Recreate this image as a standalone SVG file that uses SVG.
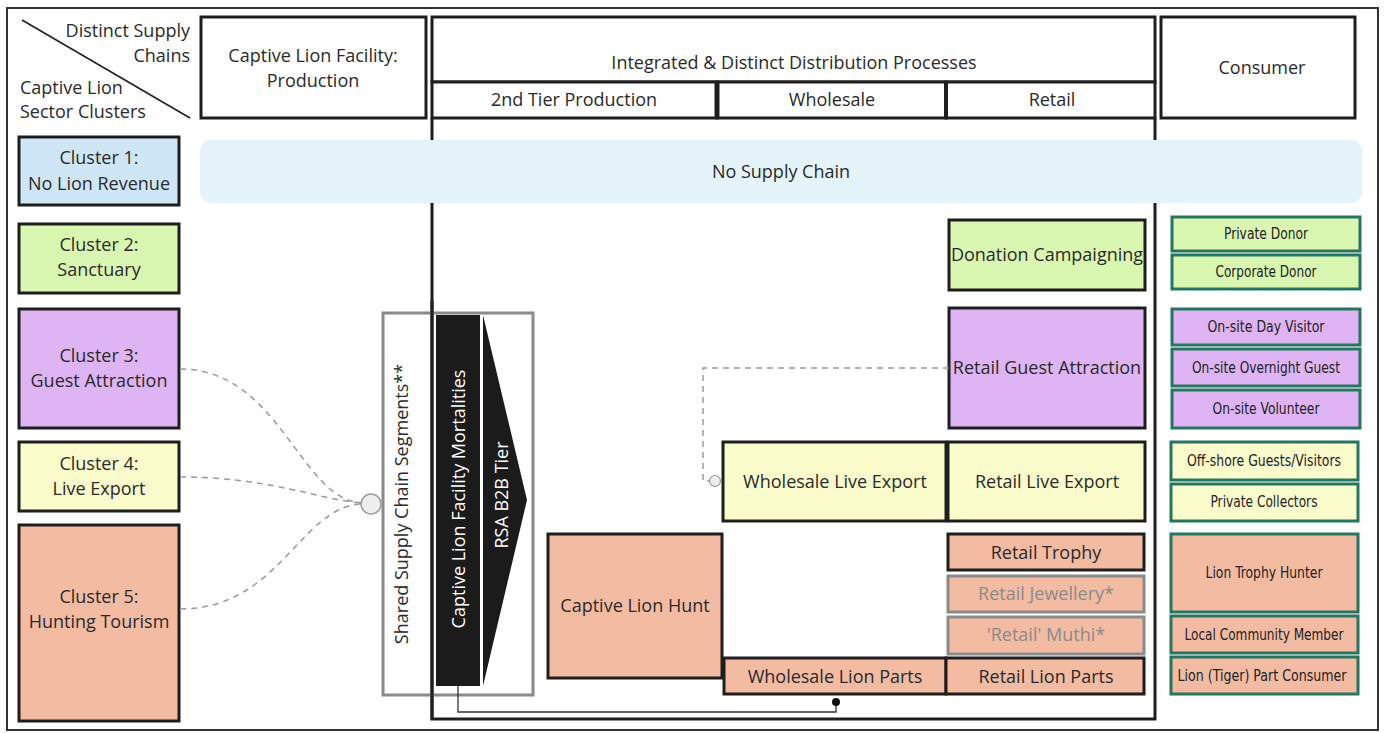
<svg xmlns="http://www.w3.org/2000/svg" width="1384" height="733" viewBox="0 0 1384 733">
  <style>
    .t { font-family: "Open Sans", "Liberation Sans", sans-serif; font-size: 18px; fill: #2a2a2a; text-anchor: middle; dominant-baseline: central; }
    .tw { font-family: "Open Sans", "Liberation Sans", sans-serif; font-size: 18px; fill: #fff; text-anchor: middle; dominant-baseline: central; }
    .tg { font-family: "Open Sans", "Liberation Sans", sans-serif; font-size: 18px; fill: #8a8a8a; text-anchor: middle; dominant-baseline: central; }
    .tc { font-family: "Liberation Sans Narrow", "DejaVu Sans Condensed", "Liberation Sans", sans-serif; font-size: 15.5px; fill: #222; text-anchor: middle; dominant-baseline: central; }
    .hdr { fill: #fff; stroke: #1e1e1e; stroke-width: 3; }
    .box { stroke: #1e1e1e; stroke-width: 3; }
    .boxg { stroke: #8a8a8a; stroke-width: 3; }
    .cons { stroke: #267560; stroke-width: 3; }
    .blue { fill: #cfe6f7; }
    .green { fill: #d9f7b0; }
    .purple { fill: #dfb4f4; }
    .yellow { fill: #fafccb; }
    .salmon { fill: #f4bba3; }
    .dash { fill: none; stroke: #9a9a9a; stroke-width: 1.5; stroke-dasharray: 6 5; }
  </style>

  <!-- outer frame -->
  <rect x="7" y="8" width="1371" height="722" fill="#fff" stroke="#333" stroke-width="2"/>

  <!-- header -->
  <g id="corner-header">
    <line x1="22" y1="20" x2="190" y2="118" stroke="#1e1e1e" stroke-width="1.5"/>
    <text class="t" x="190" y="30" style="text-anchor:end">Distinct Supply</text>
    <text class="t" x="190" y="55" style="text-anchor:end">Chains</text>
    <text class="t" x="20" y="87" style="text-anchor:start">Captive Lion</text>
    <text class="t" x="20" y="111" style="text-anchor:start">Sector Clusters</text>
  </g>
  <g id="production-header">
    <rect class="hdr" x="201" y="17" width="225" height="101"/>
    <text class="t" x="313" y="55">Captive Lion Facility:</text>
    <text class="t" x="313" y="80">Production</text>
  </g>
  <g id="distribution-header">
    <rect class="hdr" x="432" y="17" width="723" height="65"/>
    <text class="t" x="794" y="62">Integrated &amp; Distinct Distribution Processes</text>
    <rect class="hdr" x="432" y="82" width="285" height="36"/>
    <rect class="hdr" x="717" y="82" width="229" height="36"/>
    <rect class="hdr" x="946" y="82" width="209" height="36"/>
    <line x1="717" y1="82" x2="717" y2="118" stroke="#1e1e1e" stroke-width="5"/>
    <line x1="946" y1="82" x2="946" y2="118" stroke="#1e1e1e" stroke-width="4"/>
    <text class="t" x="574" y="99">2nd Tier Production</text>
    <text class="t" x="832" y="99">Wholesale</text>
    <text class="t" x="1052" y="99">Retail</text>
  </g>
  <g id="consumer-header">
    <rect class="hdr" x="1161" y="17" width="194" height="101"/>
    <text class="t" x="1262" y="67">Consumer</text>
  </g>

  <!-- distribution body frame -->
  <path d="M432,118 V719 H1155 V118" fill="none" stroke="#1e1e1e" stroke-width="3"/>

  <!-- no supply chain band -->
  <g id="no-supply-chain">
    <rect x="200" y="140" width="1162" height="63" rx="11" fill="#e5f3fb"/>
    <text class="t" x="781" y="171">No Supply Chain</text>
  </g>

  <!-- sector clusters -->
  <g id="cluster1">
    <rect class="box blue" x="19" y="137" width="160" height="68"/>
    <text class="t" x="99" y="157">Cluster 1:</text>
    <text class="t" x="99" y="183">No Lion Revenue</text>
  </g>
  <g id="cluster2">
    <rect class="box green" x="19" y="224" width="160" height="69"/>
    <text class="t" x="99" y="244">Cluster 2:</text>
    <text class="t" x="99" y="269">Sanctuary</text>
  </g>
  <g id="cluster3">
    <rect class="box purple" x="19" y="309" width="160" height="119"/>
    <text class="t" x="99" y="355">Cluster 3:</text>
    <text class="t" x="99" y="380">Guest Attraction</text>
  </g>
  <g id="cluster4">
    <rect class="box yellow" x="19" y="442" width="160" height="69"/>
    <text class="t" x="99" y="463">Cluster 4:</text>
    <text class="t" x="99" y="488">Live Export</text>
  </g>
  <g id="cluster5">
    <rect class="box salmon" x="19" y="525" width="160" height="196"/>
    <text class="t" x="99" y="596">Cluster 5:</text>
    <text class="t" x="99" y="621">Hunting Tourism</text>
  </g>

  <!-- shared segments -->
  <g id="shared-segments">
    <rect x="383" y="313" width="150" height="382" fill="none" stroke="#8a8a8a" stroke-width="3"/>
    <line x1="432" y1="300" x2="432" y2="719" stroke="#1e1e1e" stroke-width="3"/>
    <text class="t" transform="translate(401,504) rotate(-90)">Shared Supply Chain Segments**</text>
  </g>
  <g id="mortalities">
    <rect x="436" y="315" width="44" height="371" fill="#1b1b1b"/>
    <text class="tw" transform="translate(458,499) rotate(-90)">Captive Lion Facility Mortalities</text>
  </g>
  <g id="b2b-tier">
    <polygon points="483,315 527,500 483,686" fill="#1b1b1b"/>
    <text class="tw" transform="translate(501,495) rotate(-90)">RSA B2B Tier</text>
  </g>

  <!-- distribution nodes -->
  <g id="donation-campaigning">
    <rect class="box green" x="949" y="220" width="196" height="70"/>
    <text class="t" x="1047" y="254">Donation Campaigning</text>
  </g>
  <g id="retail-guest-attraction">
    <rect class="box purple" x="949" y="308" width="196" height="120"/>
    <text class="t" x="1047" y="367">Retail Guest Attraction</text>
  </g>
  <g id="wholesale-live-export">
    <rect class="box yellow" x="723" y="442" width="223" height="79"/>
    <text class="t" x="835" y="481">Wholesale Live Export</text>
  </g>
  <g id="retail-live-export">
    <rect class="box yellow" x="948" y="442" width="197" height="79"/>
    <text class="t" x="1047" y="481">Retail Live Export</text>
  </g>
  <g id="captive-lion-hunt">
    <rect class="box salmon" x="548" y="534" width="174" height="144"/>
    <text class="t" x="635" y="605">Captive Lion Hunt</text>
  </g>
  <g id="retail-trophy">
    <rect class="box salmon" x="948" y="534" width="196" height="36"/>
    <text class="t" x="1046" y="552">Retail Trophy</text>
  </g>
  <g id="retail-jewellery">
    <rect class="boxg salmon" x="948" y="576" width="196" height="36"/>
    <text class="tg" x="1046" y="593">Retail Jewellery*</text>
  </g>
  <g id="retail-muthi">
    <rect class="boxg salmon" x="948" y="617" width="196" height="37"/>
    <text class="tg" x="1046" y="634">'Retail' Muthi*</text>
  </g>
  <g id="wholesale-lion-parts">
    <rect class="box salmon" x="724" y="658" width="222" height="36"/>
    <text class="t" x="835" y="676">Wholesale Lion Parts</text>
  </g>
  <g id="retail-lion-parts">
    <rect class="box salmon" x="946" y="658" width="198" height="36"/>
    <text class="t" x="1046" y="676">Retail Lion Parts</text>
  </g>

  <!-- consumers -->
  <g id="private-donor">
    <rect class="cons green" x="1172" y="217" width="188" height="34"/>
    <text class="tc" x="1266" y="234" textLength="84" lengthAdjust="spacingAndGlyphs">Private Donor</text>
  </g>
  <g id="corporate-donor">
    <rect class="cons green" x="1172" y="255" width="188" height="34"/>
    <text class="tc" x="1266" y="272" textLength="101" lengthAdjust="spacingAndGlyphs">Corporate Donor</text>
  </g>
  <g id="day-visitor">
    <rect class="cons purple" x="1172" y="309" width="188" height="36"/>
    <text class="tc" x="1266" y="327" textLength="117" lengthAdjust="spacingAndGlyphs">On-site Day Visitor</text>
  </g>
  <g id="overnight-guest">
    <rect class="cons purple" x="1172" y="349" width="188" height="37"/>
    <text class="tc" x="1266" y="368" textLength="148" lengthAdjust="spacingAndGlyphs">On-site Overnight Guest</text>
  </g>
  <g id="volunteer">
    <rect class="cons purple" x="1172" y="390" width="188" height="38"/>
    <text class="tc" x="1266" y="409" textLength="107" lengthAdjust="spacingAndGlyphs">On-site Volunteer</text>
  </g>
  <g id="offshore-guests">
    <rect class="cons yellow" x="1171" y="442" width="187" height="38"/>
    <text class="tc" x="1264" y="461" textLength="154" lengthAdjust="spacingAndGlyphs">Off-shore Guests/Visitors</text>
  </g>
  <g id="private-collectors">
    <rect class="cons yellow" x="1171" y="484" width="187" height="37"/>
    <text class="tc" x="1264" y="502" textLength="107" lengthAdjust="spacingAndGlyphs">Private Collectors</text>
  </g>
  <g id="trophy-hunter">
    <rect class="cons salmon" x="1171" y="534" width="187" height="78"/>
    <text class="tc" x="1264" y="573" textLength="117" lengthAdjust="spacingAndGlyphs">Lion Trophy Hunter</text>
  </g>
  <g id="community-member">
    <rect class="cons salmon" x="1171" y="616" width="187" height="37"/>
    <text class="tc" x="1264" y="635" textLength="159" lengthAdjust="spacingAndGlyphs">Local Community Member</text>
  </g>
  <g id="part-consumer">
    <rect class="cons salmon" x="1171" y="657" width="187" height="37"/>
    <text class="tc" x="1262" y="676" textLength="169" lengthAdjust="spacingAndGlyphs">Lion (Tiger) Part Consumer</text>
  </g>

  <!-- connectors -->
  <g id="connectors">
    <path class="dash" d="M180,369 C280,369 300,500 362,503"/>
    <path class="dash" d="M180,477 C270,477 320,500 362,503"/>
    <path class="dash" d="M180,609 C280,609 300,506 362,504"/>
    <circle cx="371" cy="504" r="10" fill="#eeeeee" stroke="#9a9a9a" stroke-width="1.5"/>
    <path class="dash" d="M949,368 H703 V481 H709"/>
    <circle cx="715" cy="481" r="5.5" fill="#eeeeee" stroke="#9a9a9a" stroke-width="1.2"/>
    <path d="M458,686 V712 H836 V702" fill="none" stroke="#333" stroke-width="1.3"/>
    <circle cx="836" cy="702" r="4" fill="#111"/>
  </g>
</svg>
